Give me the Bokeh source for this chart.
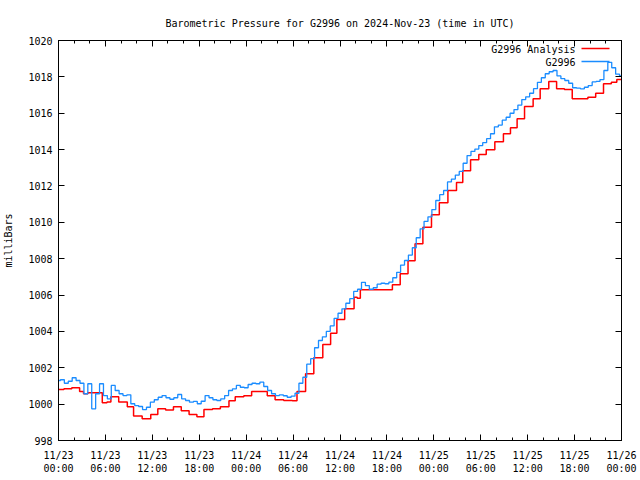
from bokeh.plotting import figure
from bokeh.models import (LinearAxis, FixedTicker, Range1d, Label, BoxAnnotation, Title)
from bokeh.embed import file_html
from bokeh.resources import INLINE

# ---- data (time in hours since 2024-11-23 00:00 UTC, pressure in mb) ----
red_hours = [0.0, 0.7, 1.7, 2.7, 3.2, 3.75, 5.6, 6.2, 6.7, 7.7, 8.8, 9.6, 10.7, 11.8,
             12.7, 13.7, 14.7, 15.7, 16.7, 17.7, 18.6, 19.7, 20.7, 21.8, 22.6, 23.7,
             24.7, 25.7, 26.7, 27.7, 28.8, 29.9, 30.5, 31.6, 32.65, 33.8, 34.8, 35.6,
             36.6, 37.8, 38.2, 38.6, 42.7, 43.7, 44.7, 45.6, 46.6, 47.7, 48.7, 49.8,
             50.9, 51.7, 52.7, 53.75, 54.7, 55.8, 56.9, 57.8, 58.65, 59.6, 60.7, 61.6,
             62.7, 63.7, 64.7, 65.7, 66.7, 67.7, 68.7, 69.7, 70.7, 71.4, 72.0]
red_mb = [1000.80, 1000.85, 1000.90, 1000.70, 1000.57, 1000.62, 1000.08, 1000.12, 1000.40,
          1000.12, 999.85, 999.35, 999.19, 999.43, 999.74, 999.68, 999.85, 999.63, 999.43,
          999.30, 999.70, 999.74, 999.85, 1000.18, 1000.40, 1000.46, 1000.70, 1000.70,
          1000.46, 1000.24, 1000.20, 1000.18, 1000.70, 1001.67, 1002.55, 1003.28, 1003.90,
          1004.65, 1005.24, 1005.88, 1005.83, 1006.29, 1006.56, 1007.17, 1007.88, 1008.82,
          1009.73, 1010.41, 1011.07, 1011.75, 1012.19, 1012.83, 1013.44, 1013.73, 1013.99,
          1014.43, 1014.87, 1015.20, 1015.69, 1016.37, 1016.79, 1017.34, 1017.74, 1017.34,
          1017.30, 1016.79, 1016.80, 1016.88, 1017.10, 1017.62, 1017.70, 1017.85, 1017.85]

blue_step_hours = 0.5
blue_mb = [1001.30, 1001.34, 1001.15, 1001.26, 1001.45, 1001.30, 1001.15, 1000.57, 1001.12,
           999.74, 1000.57, 1001.12, 1000.47, 1000.29, 1001.03, 1000.75, 1000.57, 1000.47,
           1000.51, 1000.02, 999.92, 999.87, 999.70, 999.83, 1000.11, 1000.24, 1000.38,
           1000.47, 1000.35, 1000.27, 1000.35, 1000.53, 1000.29, 1000.20, 1000.11, 1000.15,
           1000.02, 1000.16, 1000.47, 1000.35, 1000.24, 1000.20, 1000.29, 1000.47, 1000.75,
           1000.84, 1001.03, 1000.93, 1000.90, 1001.08, 1001.15, 1001.12, 1001.21, 1000.97,
           1000.75, 1000.57, 1000.47, 1000.51, 1000.46, 1000.38, 1000.44, 1000.60, 1001.15,
           1001.48, 1002.20, 1002.50, 1003.10, 1003.50, 1003.70, 1004.00, 1004.30, 1004.72,
           1005.00, 1005.24, 1005.55, 1005.80, 1006.20, 1006.32, 1006.70, 1006.52, 1006.32,
           1006.40, 1006.60, 1006.65, 1006.62, 1006.71, 1006.95, 1007.25, 1007.65, 1007.90,
           1008.20, 1008.60, 1009.15, 1009.64, 1010.05, 1010.30, 1010.70, 1011.20, 1011.52,
           1011.75, 1012.22, 1012.38, 1012.60, 1012.80, 1013.25, 1013.67, 1013.90, 1014.03,
           1014.22, 1014.38, 1014.60, 1014.87, 1015.25, 1015.35, 1015.62, 1015.78, 1016.00,
           1016.20, 1016.45, 1016.75, 1016.90, 1017.10, 1017.35, 1017.70, 1017.95, 1018.17,
           1018.28, 1018.35, 1018.05, 1017.90, 1017.80, 1017.65, 1017.40, 1017.38, 1017.34,
           1017.43, 1017.52, 1017.72, 1017.75, 1017.85, 1018.35, 1018.80, 1018.50, 1018.15,
           1018.05]
blue_hours = [i * blue_step_hours for i in range(len(blue_mb))]

x_tick_hours = [0, 6, 12, 18, 24, 30, 36, 42, 48, 54, 60, 66, 72]
x_tick_labels = ["11/23\n00:00", "11/23\n06:00", "11/23\n12:00", "11/23\n18:00",
                 "11/24\n00:00", "11/24\n06:00", "11/24\n12:00", "11/24\n18:00",
                 "11/25\n00:00", "11/25\n06:00", "11/25\n12:00", "11/25\n18:00",
                 "11/26\n00:00"]
x_minor_hours = list(range(0, 73, 2))
y_ticks = [998, 1000, 1002, 1004, 1006, 1008, 1010, 1012, 1014, 1016, 1018, 1020]

title_text = "Barometric Pressure for G2996 on 2024-Nov-23 (time in UTC)"
series_names = ["G2996 Analysis", "G2996"]
RED = "#ff0000"
BLUE = "#1a8cff"
FONT = "DejaVu Sans Mono"
FS = "10px"

p = figure(frame_width=563, frame_height=400, output_backend="svg", toolbar_location=None,
           x_axis_location=None, y_axis_location=None,
           min_border_left=58, min_border_right=19, min_border_top=40, min_border_bottom=40)
p.x_range = Range1d(0, 72)
p.y_range = Range1d(998, 1020)
p.xgrid.visible = False
p.ygrid.visible = False
p.outline_line_color = "black"
p.outline_line_width = 1
p.background_fill_color = "white"
p.border_fill_color = "white"

p.title = Title(text=title_text, align="center", text_font=FONT,
                text_font_size=FS, text_font_style="normal", text_color="black",
                standoff=24)

xt = FixedTicker(ticks=x_tick_hours, minor_ticks=x_minor_hours)
yt = FixedTicker(ticks=y_ticks, minor_ticks=[])


def style_axis(ax, show_labels):
    ax.axis_line_color = "black"
    ax.major_tick_in = 6
    ax.major_tick_out = 0
    ax.minor_tick_in = 3
    ax.minor_tick_out = 0
    ax.major_tick_line_color = "black"
    ax.minor_tick_line_color = "black"
    ax.major_label_text_font = FONT
    ax.major_label_text_font_size = FS
    ax.major_label_text_color = "black" if show_labels else None
    ax.axis_label_text_font = FONT
    ax.axis_label_text_font_size = FS
    ax.axis_label_text_font_style = "normal"
    ax.axis_label_text_color = "black"


xb = LinearAxis(ticker=xt, major_label_overrides={h: l for h, l in zip(x_tick_hours, x_tick_labels)})
style_axis(xb, True)
xb.major_label_standoff = 9
p.add_layout(xb, "below")

xa = LinearAxis(ticker=xt)
style_axis(xa, False)
xa.major_label_standoff = 0
p.add_layout(xa, "above")

yl = LinearAxis(ticker=yt, axis_label="milliBars")
style_axis(yl, True)
yl.major_label_standoff = 6
yl.axis_label_standoff = 11
p.add_layout(yl, "left")

yr = LinearAxis(ticker=yt)
style_axis(yr, False)
yr.major_label_standoff = 0
p.add_layout(yr, "right")

p.step(red_hours, red_mb, mode="after", line_color=RED, line_width=1.5)
p.step(blue_hours, blue_mb, mode="center", line_color=BLUE, line_width=1.3)

# legend (gnuplot style: text, then line sample), in screen units of the frame
for i, (name, col) in enumerate(zip(series_names, [RED, BLUE])):
    yc = 391 - 13 * i
    p.add_layout(Label(x=517, y=yc, x_units="screen", y_units="screen", text=name,
                       text_align="right", text_baseline="middle", text_font=FONT,
                       text_font_size=FS, text_color="black"))
    p.add_layout(BoxAnnotation(left=523, right=551, bottom=yc + 0.3, top=yc + 1.7,
                               left_units="screen", right_units="screen",
                               bottom_units="screen", top_units="screen",
                               fill_color=col, fill_alpha=1.0, line_color=None))

open("out.html", "w").write(file_html(p, INLINE))
